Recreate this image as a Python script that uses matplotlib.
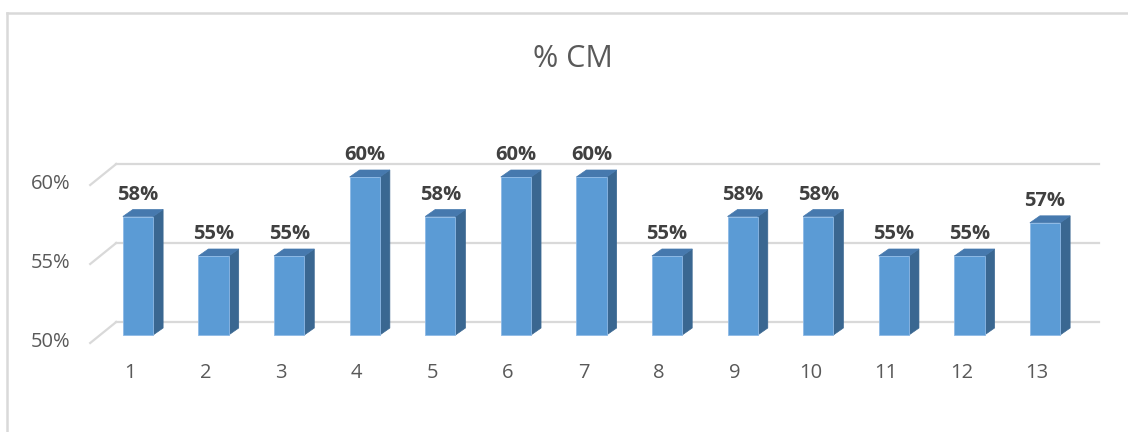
import matplotlib
matplotlib.use("Agg")
import matplotlib.pyplot as plt
from matplotlib.patches import Polygon
from matplotlib.lines import Line2D
from matplotlib.transforms import IdentityTransform

# ---- data ----
categories = ["1", "2", "3", "4", "5", "6", "7", "8", "9", "10", "11", "12", "13"]
values = [57.5, 55.0, 55.0, 60.0, 57.5, 60.0, 60.0, 55.0, 57.5, 57.5, 55.0, 55.0, 57.1]
labels = ["58%", "55%", "55%", "60%", "58%", "60%", "60%", "55%", "58%", "58%", "55%", "55%", "57%"]
yticks = [50, 55, 60]
ytick_labels = ["50%", "55%", "60%"]
title = "% CM"

FRONT = "#5B9BD5"
SIDE = "#3A6791"
TOP = "#4679AE"
GRID = "#D9D9D9"
TXT = "#595959"
LBL = "#404040"
FONT = ["Open Sans", "DejaVu Sans"]

W, H, DPI = 1128, 432, 100
fig = plt.figure(figsize=(W / DPI, H / DPI), dpi=DPI)
fig.patch.set_facecolor("white")

# axes = front plane of the bars
ax = fig.add_axes([100.2 / W, 97 / H, 982.6 / W, 158 / H])
ax.set_xlim(0.5, len(categories) + 0.5)
ax.set_ylim(yticks[0], yticks[-1])
ax.axis("off")

x = list(range(1, len(categories) + 1))
bw = 0.4
# depth offsets in pixels (display coords, y up)
DX, DY = 10, 7          # bar depth
WX, WY = 16, 13         # back wall relative to bar front plane
FX, FY = -10, -8        # front floor edge relative to bar front plane
ID = IdentityTransform()

def disp(px, py):
    return ax.transData.transform((px, py))

fig.canvas.draw()

# gridlines on back wall + left wall slant
for v, tl in zip(yticks, ytick_labels):
    x0, y0 = disp(ax.get_xlim()[0], v)
    x1, _ = disp(ax.get_xlim()[1], v)
    ax.add_line(Line2D([x0 + WX, x1 + WX], [y0 + WY, y0 + WY], color=GRID,
                       lw=1.6, transform=ID, zorder=1, clip_on=False))
    ax.add_line(Line2D([x0 + FX, x0 + WX], [y0 + FY, y0 + WY], color=GRID,
                       lw=1.6, transform=ID, zorder=1, clip_on=False))
    ax.text(x0 - 30, y0 + FY + 1, tl, transform=ID, ha="right", va="center",
            fontsize=14.5, color=TXT, family=FONT, clip_on=False)

# bars
ax.bar(x, [v - yticks[0] for v in values], bottom=yticks[0], width=bw,
       color=FRONT, edgecolor="#8DB9E6", linewidth=0.6, zorder=3, clip_on=False)
for xi, v in zip(x, values):
    lx, by = disp(xi - bw / 2, yticks[0])
    rx, ty = disp(xi + bw / 2, v)
    side = Polygon([(rx, by), (rx, ty), (rx + DX, ty + DY), (rx + DX, by + DY)],
                   closed=True, facecolor=SIDE, edgecolor=SIDE, lw=0.5,
                   transform=ID, zorder=2, clip_on=False)
    top = Polygon([(lx, ty), (rx, ty), (rx + DX, ty + DY), (lx + DX, ty + DY)],
                  closed=True, facecolor=TOP, edgecolor=TOP, lw=0.5,
                  transform=ID, zorder=2, clip_on=False)
    ax.add_patch(side)
    ax.add_patch(top)

# data labels
for xi, v, lab in zip(x, values, labels):
    cx, ty = disp(xi, v)
    ax.text(cx, ty + 17, lab, transform=ID, ha="center", va="baseline",
            fontsize=14.5, fontweight="bold", color=LBL, family=FONT, clip_on=False)

# category labels
for xi, c in zip(x, categories):
    cx, cy = disp(xi, yticks[0])
    ax.text(cx + FX + 2, cy + FY - 30, c, transform=ID, ha="center", va="center",
            fontsize=14.5, color=TXT, family=FONT, clip_on=False)

# title
fig.text(573 / W, 1 - 59 / H, title, ha="center", va="center", fontsize=22,
         color=TXT, family=FONT)

# chart border
fig.add_artist(Line2D([7 / W, 1.0], [1 - 13 / H, 1 - 13 / H], color=GRID, lw=1.8,
                      transform=fig.transFigure))
fig.add_artist(Line2D([7 / W, 7 / W], [0, 1 - 13 / H], color=GRID, lw=1.8,
                      transform=fig.transFigure))

fig.savefig("out.png", dpi=DPI, facecolor="white")
